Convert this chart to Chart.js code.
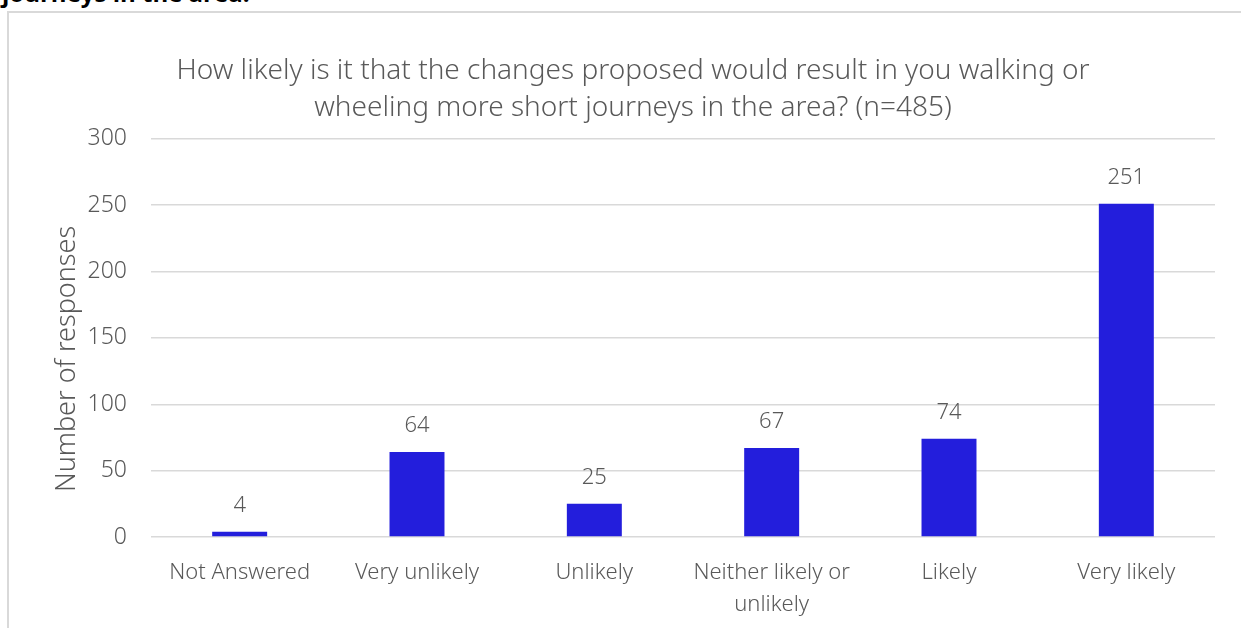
<!DOCTYPE html>
<html>
<head>
<meta charset="utf-8">
<script src="https://cdn.jsdelivr.net/npm/chart.js@4"></script>
<style>
  html, body { margin: 0; padding: 0; background: #fff; }
  body { width: 1241px; height: 628px; position: relative; overflow: hidden; }
  #heading {
    position: absolute; left: 2px; top: -24px;
    font: bold 24px "Open Sans", "Noto Sans", sans-serif; color: #000;
    white-space: nowrap;
  }
  #frame {
    position: absolute; left: 7px; top: 11px; right: -4px; bottom: -4px;
    border-left: 2px solid #d9d9d9; border-top: 2px solid #d9d9d9;
  }
  #chart { position: absolute; left: 0; top: 0; }
</style>
</head>
<body>
<div id="heading">journeys in the area.</div>
<div id="frame"></div>
<canvas id="chart" width="1241" height="628"></canvas>
<script>
const categories = [
  "Not Answered",
  "Very unlikely",
  "Unlikely",
  ["Neither likely or", "unlikely"],
  "Likely",
  "Very likely",
];
const responses = [4, 64, 25, 67, 74, 251];
const yTicks = [0, 50, 100, 150, 200, 250, 300];

const FONT = "'Noto Sans', 'Open Sans', sans-serif";
const TEXT = "#595959";
const GRID = "#d9d9d9";
const BAR = "#231edc";

// value labels above each bar
const valueLabels = {
  id: "valueLabels",
  afterDatasetsDraw(chart) {
    const { ctx } = chart;
    const meta = chart.getDatasetMeta(0);
    ctx.save();
    ctx.fillStyle = TEXT;
    ctx.font = "300 22px " + FONT;
    ctx.textAlign = "center";
    ctx.textBaseline = "middle";
    meta.data.forEach((bar, i) => {
      ctx.fillText(String(responses[i]), bar.x, bar.y - 26);
    });
    ctx.restore();
  },
};

new Chart(document.getElementById("chart"), {
  type: "bar",
  data: {
    labels: categories,
    datasets: [
      {
        data: responses,
        backgroundColor: BAR,
        borderWidth: 0,
        barPercentage: 0.31,
        categoryPercentage: 1,
      },
    ],
  },
  options: {
    responsive: false,
    animation: false,
    layout: { padding: { left: 51, right: 26, top: 53, bottom: 9 } },
    plugins: {
      legend: { display: false },
      tooltip: { enabled: false },
      title: {
        display: true,
        text: [
          "How likely is it that the changes proposed would result in you walking or",
          "wheeling more short journeys in the area? (n=485)",
        ],
        color: TEXT,
        font: { family: FONT, size: 28, weight: 300, lineHeight: 1.3 },
        padding: { top: 0, bottom: 13 },
      },
    },
    scales: {
      x: {
        grid: { display: false, drawTicks: false },
        border: { display: false },
        ticks: {
          color: TEXT,
          font: { family: FONT, size: 22, weight: 300, lineHeight: 1.45 },
          padding: 20,
          maxRotation: 0,
          autoSkip: false,
        },
        afterFit: (axis) => {
          axis.paddingLeft = 0;
          axis.paddingRight = 0;
          axis.height = 82;
        },
      },
      y: {
        min: 0,
        max: 300,
        afterBuildTicks: (axis) => {
          axis.ticks = yTicks.map((v) => ({ value: v }));
        },
        afterFit: (axis) => {
          axis.paddingTop = 0;
          axis.paddingBottom = 0;
          axis.width = 100;
        },
        grid: { color: GRID, lineWidth: 1.5, drawTicks: false },
        border: { display: false },
        ticks: {
          color: TEXT,
          font: { family: FONT, size: 23, weight: 300 },
          padding: 24,
        },
        title: {
          display: true,
          // trailing spaces nudge the rotated title down a little, like the original
          text: "Number of responses      ",
          color: TEXT,
          font: { family: FONT, size: 27, weight: 300 },
          padding: { top: 0, bottom: 4 },
        },
      },
    },
  },
  plugins: [valueLabels],
});
</script>
</body>
</html>
